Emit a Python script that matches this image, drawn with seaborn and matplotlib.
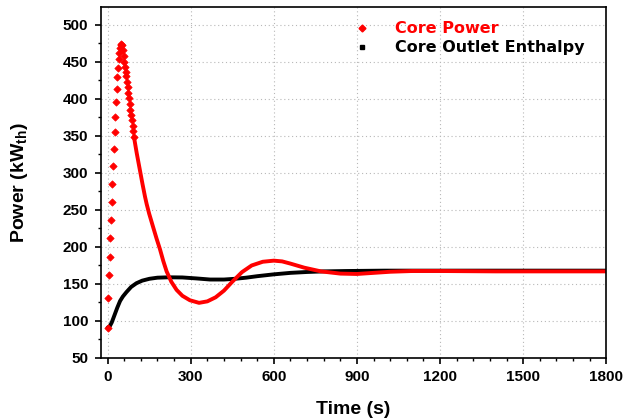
import matplotlib
matplotlib.use("Agg")
import numpy as np
import pandas as pd
import seaborn as sns
import matplotlib.pyplot as plt
from matplotlib.lines import Line2D
from matplotlib.ticker import MultipleLocator

# core power, sparse part (start-up ramp, peak and first part of the drop)
power_t_sparse = [0, 2.5, 5, 7.5, 10, 12.5, 15, 17.5, 20, 22.5, 25, 27.5, 30, 32.5,
                  35, 37.5, 40, 42.5, 45, 47.5, 50, 52.5, 55, 57.5, 60, 62.5, 65,
                  67.5, 70, 72.5, 75, 77.5, 80, 82.5, 85, 87.5, 90, 92.5, 95]
power_sparse = [91, 131, 162, 187, 212, 237, 260.5, 285, 309, 333, 355, 375, 395.5,
                413, 429.5, 441.5, 454, 462, 469, 473, 474, 472.5, 466, 458, 450,
                443, 437, 431, 423.5, 416, 408.5, 401, 393, 385, 378, 371, 363.5,
                356, 349]

# core power, dense part (drawn as a solid trail of markers)
power_t_dense = [95, 100, 105, 111, 117, 126, 135, 141, 150, 165, 177, 189, 201, 213,
                 230, 249, 270, 297, 330, 360, 390, 420, 450, 485, 520, 560, 600,
                 630, 660, 710, 770, 840, 900, 960, 1020, 1100, 1200, 1400, 1600, 1800]
power_dense = [349, 338, 327, 315, 303, 285, 268, 258, 245, 226, 211, 197, 181, 167,
               153, 142, 134, 128, 124.5, 126.5, 132, 141, 153, 166, 175, 180, 181.5,
               180.5, 177.5, 172, 167, 164, 163.5, 165, 166.5, 167.5, 167.5, 167,
               167, 167]

# core outlet enthalpy
enth_t = [0, 8, 15, 25, 35, 45, 55, 68, 85, 104, 125, 151, 180, 220, 270, 320, 370,
          420, 460, 500, 540, 600, 660, 720, 780, 860, 1000, 1200, 1500, 1800]
enthalpy = [91, 93, 98, 108, 118, 127, 133, 139, 146, 151, 154.5, 157, 158.5, 159,
            158.8, 157.5, 156, 156, 157, 158.5, 160.5, 163, 165, 166.2, 167, 167.5,
            168, 168, 168, 168]

x_ticks = [0, 300, 600, 900, 1200, 1500, 1800]
y_ticks = [50, 100, 150, 200, 250, 300, 350, 400, 450, 500]

sns.set_style("ticks")
plt.rcParams["font.family"] = ["Liberation Sans", "DejaVu Sans"]
plt.rcParams["font.weight"] = "bold"
plt.rcParams["text.color"] = "black"
plt.rcParams["axes.labelcolor"] = "black"
plt.rcParams["mathtext.fontset"] = "custom"
plt.rcParams["mathtext.rm"] = "Liberation Sans:bold"
plt.rcParams["mathtext.bf"] = "Liberation Sans:bold"

fig = plt.figure(figsize=(6.27, 4.19), dpi=100)
ax = fig.add_axes([0.161, 0.1456, 0.806, 0.8374])

sparse_df = pd.DataFrame({"t": power_t_sparse, "p": power_sparse})
dense_df = pd.DataFrame({"t": power_t_dense, "p": power_dense})
enth_df = pd.DataFrame({"t": enth_t, "h": enthalpy})

sns.lineplot(data=enth_df, x="t", y="h", color="black", linewidth=2.8,
             estimator=None, sort=False, ax=ax)
sns.lineplot(data=dense_df, x="t", y="p", color="red", linewidth=2.8,
             estimator=None, sort=False, ax=ax)
sns.scatterplot(data=sparse_df, x="t", y="p", color="red", marker="D", s=14,
                edgecolor="red", linewidth=0.5, ax=ax, zorder=3)

ax.set_xlim(-24, 1800)
ax.set_ylim(50, 524)
ax.set_xticks(x_ticks)
ax.set_yticks(y_ticks)
ax.xaxis.set_minor_locator(MultipleLocator(60))
ax.yaxis.set_minor_locator(MultipleLocator(25))
ax.grid(True, which="major", color="#b8b8b8", linestyle=(0, (1, 2.5)), linewidth=0.8)

for s in ax.spines.values():
    s.set_visible(True)
    s.set_linewidth(1.2)
    s.set_color("black")
ax.tick_params(which="major", direction="out", length=4, width=1.2,
               labelsize=11, pad=5, colors="black")
ax.tick_params(which="minor", direction="out", length=2.5, width=1.0, colors="black")
for lab in ax.get_xticklabels() + ax.get_yticklabels():
    lab.set_fontweight("bold")

ax.set_xlabel("Time (s)", fontsize=14, fontweight="bold", labelpad=12, color="black")
ax.set_ylabel(r"Power (kW$_{\mathbf{th}}$)", fontsize=14, fontweight="bold",
              labelpad=24, color="black")

handles = [
    Line2D([], [], color="red", marker="D", markersize=3.5, linestyle="none"),
    Line2D([], [], color="black", marker="s", markersize=3.5, linestyle="none"),
]
leg = ax.legend(handles, ["Core Power", "Core Outlet Enthalpy"], loc="upper left",
                bbox_to_anchor=(0.472, 1.0), frameon=False, handlelength=1.0,
                handletextpad=1.6, labelspacing=0.25,
                prop={"family": "DejaVu Sans", "weight": "bold", "size": 11.5})
leg.get_texts()[0].set_color("red")
leg.get_texts()[1].set_color("black")

fig.savefig("out.png", dpi=100)
